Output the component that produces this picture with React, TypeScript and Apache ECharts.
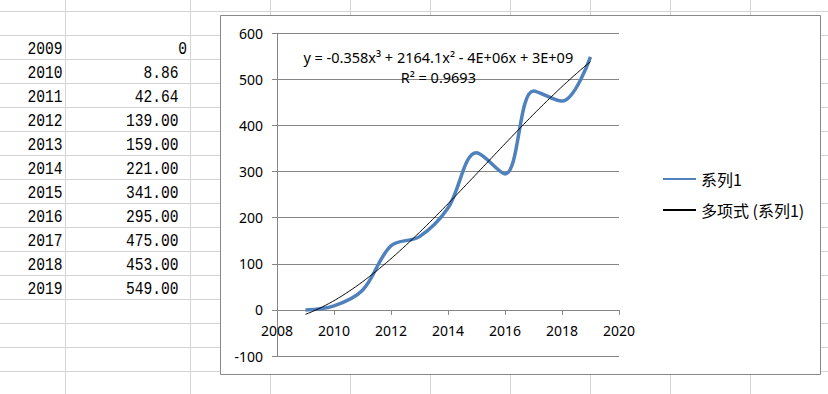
import React, { useEffect, useRef } from "react";
import * as echarts from "echarts";

// ---- data ----
const years = [2009, 2010, 2011, 2012, 2013, 2014, 2015, 2016, 2017, 2018, 2019];
const values = [0, 8.86, 42.64, 139, 159, 221, 341, 295, 475, 453, 549];
const valueLabels = ["0", "8.86", "42.64", "139.00", "159.00", "221.00", "341.00", "295.00", "475.00", "453.00", "549.00"];
const xMin = 2008;
const xMax = 2020;
const xStep = 2;
const yMin = -100;
const yMax = 600;
const yStep = 100;
const seriesName = "系列1";
const trendName = "多项式 (系列1)";
const equationText = "y = -0.358x³ + 2164.1x² - 4E+06x + 3E+09";
const r2Text = "R² = 0.9693";

// ---- cubic least-squares trendline (as Excel's polynomial trendline) ----
function cubicFit(xs: number[], ys: number[], x0: number): number[] {
  const n = 4;
  const A: number[][] = [];
  const b: number[] = [];
  for (let i = 0; i < n; i++) {
    A.push([0, 0, 0, 0]);
    b.push(0);
  }
  xs.forEach((x, k) => {
    const t = x - x0;
    for (let i = 0; i < n; i++) {
      for (let j = 0; j < n; j++) A[i][j] += Math.pow(t, i + j);
      b[i] += ys[k] * Math.pow(t, i);
    }
  });
  for (let c = 0; c < n; c++) {
    let p = c;
    for (let r = c + 1; r < n; r++) if (Math.abs(A[r][c]) > Math.abs(A[p][c])) p = r;
    [A[c], A[p]] = [A[p], A[c]];
    [b[c], b[p]] = [b[p], b[c]];
    for (let r = c + 1; r < n; r++) {
      const f = A[r][c] / A[c][c];
      for (let j = c; j < n; j++) A[r][j] -= f * A[c][j];
      b[r] -= f * b[c];
    }
  }
  const coef = [0, 0, 0, 0];
  for (let r = n - 1; r >= 0; r--) {
    let s = b[r];
    for (let j = r + 1; j < n; j++) s -= A[r][j] * coef[j];
    coef[r] = s / A[r][r];
  }
  return coef;
}

const x0 = years[Math.floor(years.length / 2)];
const coef = cubicFit(years, values, x0);
const trendData: number[][] = [];
{
  const first = years[0];
  const last = years[years.length - 1];
  const steps = 200;
  for (let i = 0; i <= steps; i++) {
    const x = first + ((last - first) * i) / steps;
    const t = x - x0;
    trendData.push([x, coef[0] + coef[1] * t + coef[2] * t * t + coef[3] * t * t * t]);
  }
}
const lineData = years.map((y, i) => [y, values[i]]);

// ---- layout ----
const W = 828;
const H = 394;
const GRID = { left: 277, right: 209, top: 33.3, bottom: 38 };
// x axis crosses the value axis at 0 (Excel style): shift it up from the plot bottom
const plotH = H - GRID.top - GRID.bottom;
const zeroOffset = -((0 - yMin) / (yMax - yMin)) * plotH;

// ---- spreadsheet backdrop (layout) ----
const GRID_COLOR = "#D4D4D4";
const rowLines: number[] = [];
for (let y = 11; y < H; y += 24) rowLines.push(y);
const colLines = [65, 190, 270, 350, 430, 510, 590, 670, 750];

const cellFont = '14.6px "Liberation Mono", monospace';

function buildGraphic(): any[] {
  const els: any[] = [];
  rowLines.forEach((y) =>
    els.push({
      type: "line",
      z: 0,
      silent: true,
      shape: { x1: 0, y1: y + 0.5, x2: W, y2: y + 0.5 },
      style: { stroke: GRID_COLOR, lineWidth: 1 },
    })
  );
  colLines.forEach((x) =>
    els.push({
      type: "line",
      z: 0,
      silent: true,
      shape: { x1: x + 0.5, y1: 0, x2: x + 0.5, y2: H },
      style: { stroke: GRID_COLOR, lineWidth: 1 },
    })
  );
  years.forEach((yr, i) => {
    const cy = 49.3 + 24 * i;
    els.push({
      type: "text",
      z: 1,
      silent: true,
      x: 62.5,
      y: cy,
      scaleY: 1.25,
      style: {
        text: String(yr),
        x: 0,
        y: 0,
        font: cellFont,
        fill: "#000",
        align: "right",
        verticalAlign: "middle",
        textAlign: "right",
        textVerticalAlign: "middle",
      },
    });
    const lbl = valueLabels[i];
    const right = lbl.indexOf(".") >= 0 ? 178.5 : 187;
    els.push({
      type: "text",
      z: 1,
      silent: true,
      x: right,
      y: cy,
      scaleY: 1.25,
      style: {
        text: lbl,
        x: 0,
        y: 0,
        font: cellFont,
        fill: "#000",
        align: "right",
        verticalAlign: "middle",
        textAlign: "right",
        textVerticalAlign: "middle",
      },
    });
  });
  // chart box
  els.push({
    type: "rect",
    z: 2,
    silent: true,
    shape: { x: 220.5, y: 15.5, width: 600, height: 359 },
    style: { fill: "#fff", stroke: "#888888", lineWidth: 1 },
  });
  // trendline label
  [equationText, r2Text].forEach((t, i) =>
    els.push({
      type: "text",
      z: 6,
      silent: true,
      x: 438.3,
      y: 56.7 + 20 * i,
      style: {
        text: t,
        x: 0,
        y: 0,
        font: '14.5px "Noto Sans", sans-serif',
        fill: "#000",
        align: "center",
        verticalAlign: "middle",
        textAlign: "center",
        textVerticalAlign: "middle",
      },
    })
  );
  return els;
}

const AXIS_COLOR = "#868686";
const labelStyle = { fontFamily: '"Noto Sans", sans-serif', fontSize: 14, color: "#000" };

const option: any = {
  animation: false,
  backgroundColor: "#fff",
  graphic: { elements: buildGraphic() },
  grid: { ...GRID, containLabel: false },
  xAxis: {
    type: "value",
    position: "bottom",
    offset: zeroOffset,
    min: xMin,
    max: xMax,
    interval: xStep,
    z: 4,
    axisLine: { show: true, onZero: false, lineStyle: { color: AXIS_COLOR, width: 1 } },
    axisTick: { show: true, length: 5, lineStyle: { color: AXIS_COLOR } },
    axisLabel: {
      ...labelStyle,
      margin: 14,
      showMinLabel: true,
      showMaxLabel: true,
      formatter: (v: number) => String(v),
    },
    splitLine: { show: false },
  },
  yAxis: {
    type: "value",
    min: yMin,
    max: yMax,
    interval: yStep,
    z: 4,
    axisLine: { show: true, onZero: false, lineStyle: { color: AXIS_COLOR, width: 1 } },
    axisTick: { show: true, length: 5, lineStyle: { color: AXIS_COLOR } },
    axisLabel: { ...labelStyle, margin: 14, formatter: (v: number) => String(v) },
    splitLine: { show: true, lineStyle: { color: AXIS_COLOR, width: 1 } },
  },
  legend: {
    orient: "vertical",
    left: 662,
    top: 171,
    padding: 0,
    itemWidth: 33,
    itemHeight: 14,
    itemGap: 15,
    z: 6,
    selectedMode: false,
    itemStyle: { opacity: 0 },
    textStyle: { fontFamily: '"Noto Sans CJK SC", sans-serif', fontSize: 16, color: "#000" },
    data: [seriesName, trendName],
  },
  series: [
    {
      name: seriesName,
      type: "line",
      data: lineData,
      smooth: 0.35,
      symbol: "none",
      z: 5,
      lineStyle: { color: "#4F81BD", width: 3.5 },
      itemStyle: { color: "#4F81BD" },
    },
    {
      name: trendName,
      type: "line",
      data: trendData,
      smooth: false,
      symbol: "none",
      z: 6,
      lineStyle: { color: "#000", width: 1 },
      itemStyle: { color: "#000" },
    },
  ],
};

export default function App() {
  const ref = useRef<HTMLDivElement>(null);
  useEffect(() => {
    document.body.style.margin = "0";
    const chart = echarts.init(ref.current as HTMLDivElement, null, { renderer: "svg" });
    chart.setOption(option);
    return () => chart.dispose();
  }, []);
  return (
    <div
      ref={ref}
      style={{ position: "absolute", left: 0, top: 0, width: W, height: H, background: "#fff" }}
    />
  );
}
